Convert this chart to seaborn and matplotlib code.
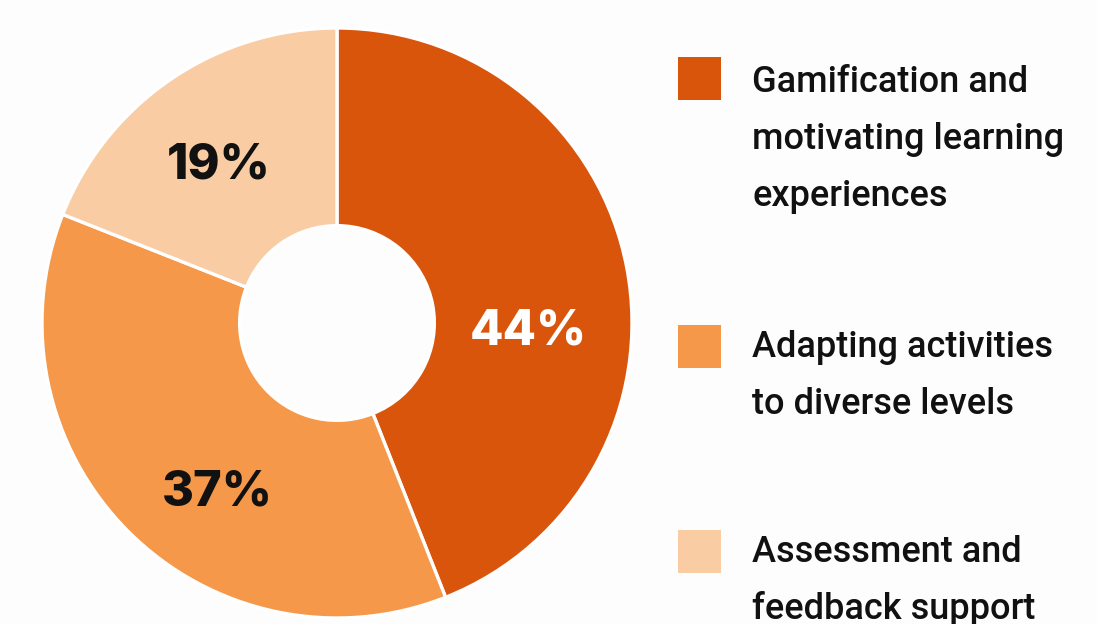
import numpy as np
import matplotlib
matplotlib.use("Agg")
import matplotlib.pyplot as plt
import seaborn as sns
from matplotlib.patches import Rectangle

# ---- data ----
categories = [
    "Gamification and\nmotivating learning\nexperiences",
    "Adapting activities\nto diverse levels",
    "Assessment and\nfeedback support",
]
shares = [44, 37, 19]
pct_labels = ["44%", "37%", "19%"]

# ---- style ----
sns.set_theme(style="white")
plt.rcParams["font.family"] = ["Roboto", "DejaVu Sans"]
colors = ["#D9550B", "#F5984A", "#F9CCA3"]
label_colors = ["white", "#111111", "#111111"]
label_angles = [-1.0, 234.0, 126.0]   # degrees, placement of percentage text
label_radii = [0.65, 0.69, 0.68]

W, H = 1097, 624
fig = plt.figure(figsize=(W / 100, H / 100), dpi=100)
fig.patch.set_facecolor("#FDFDFD")

# donut axes: centre (337, 323), radius 295 px
cx, cy, R = 337, 323, 295
ax = fig.add_axes([(cx - R) / W, (H - cy - R) / H, 2 * R / W, 2 * R / H])
wedges, _ = ax.pie(
    shares,
    colors=colors,
    startangle=90,
    counterclock=False,
    radius=1.0,
    wedgeprops=dict(width=0.67, edgecolor="white", linewidth=2.4),
)
ax.set_xlim(-1, 1)
ax.set_ylim(-1, 1)
ax.set_aspect("equal")
ax.axis("off")

for txt, ang, rr, col in zip(pct_labels, label_angles, label_radii, label_colors):
    a = np.deg2rad(ang)
    ax.text(rr * np.cos(a), rr * np.sin(a), txt,
            ha="center", va="center_baseline", fontsize=35, fontweight=800,
            color=col, family=["Inter", "DejaVu Sans"])

# ---- legend (manual) ----
sq = 43
sq_x = 678
sq_tops = [57, 325, 530]
first_baselines = [92, 357, 562]
line_gap = 57
text_x = 752
for cat, col, top, base in zip(categories, colors, sq_tops, first_baselines):
    fig.add_artist(Rectangle((sq_x / W, (H - top - sq) / H), sq / W, sq / H,
                             transform=fig.transFigure, facecolor=col,
                             edgecolor="none"))
    for i, line in enumerate(cat.split("\n")):
        fig.text(text_x / W, (H - base - i * line_gap) / H, line,
                 ha="left", va="baseline", fontsize=26, fontweight="medium",
                 color="#111111")

fig.savefig("out.png", dpi=100, facecolor=fig.get_facecolor())
